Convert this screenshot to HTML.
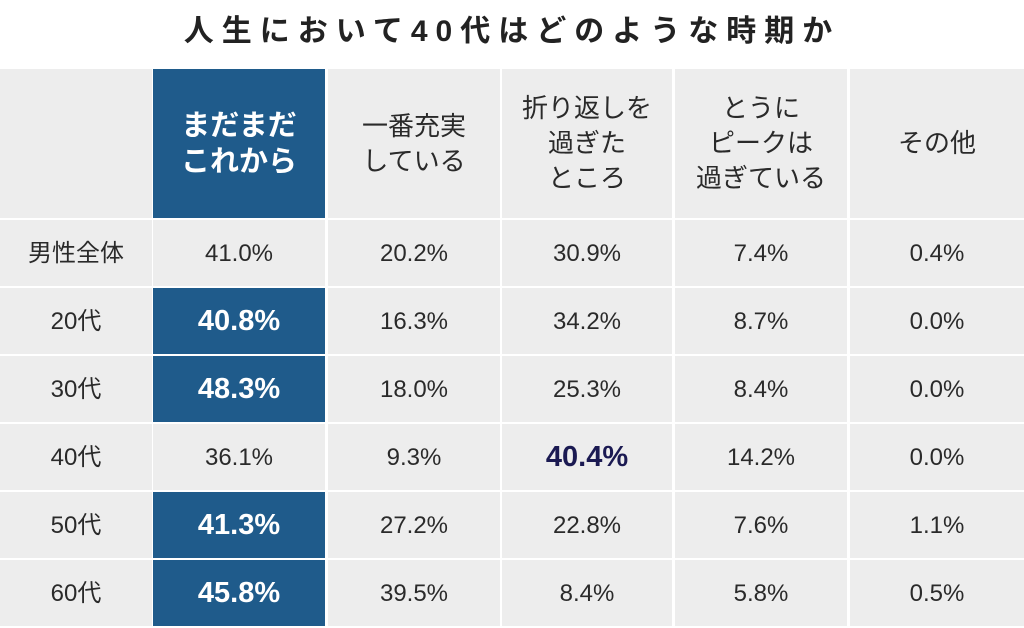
<!DOCTYPE html>
<html><head><meta charset="utf-8"><style>
body{margin:0;width:1024px;height:628px;background:#fff;position:relative;overflow:hidden;font-family:"Liberation Sans","Noto Sans CJK JP",sans-serif;color:#222}
.c{position:absolute;background:#ededed;display:flex;align-items:center;justify-content:center;text-align:center;font-size:24px;line-height:33px;color:#2a2a2a}
.b{background:#1f5b8b;color:#fff;font-weight:bold;font-size:29px;line-height:36px}
.h{font-size:26px;line-height:35px}
.hl{color:#1b1a52;font-weight:bold;font-size:29px}
#title{position:absolute;top:6px;left:0;width:1024px;text-align:center;font-size:30px;font-weight:bold;letter-spacing:8px;color:#222}
</style></head><body>
<div id="title">人生において40代はどのような時期か</div>
<div id="t"></div>
<script>
const rowLabels=["男性全体","20代","30代","40代","50代","60代"];
const colHeaders=["まだまだ<br>これから","一番充実<br>している","折り返しを<br>過ぎた<br>ところ","とうに<br>ピークは<br>過ぎている","その他"];
const col1=[41.0,40.8,48.3,36.1,41.3,45.8];
const col2=[20.2,16.3,18.0,9.3,27.2,39.5];
const col3=[30.9,34.2,25.3,40.4,22.8,8.4];
const col4=[7.4,8.7,8.4,14.2,7.6,5.8];
const col5=[0.4,0.0,0.0,0.0,1.1,0.5];
const cols=[col1,col2,col3,col4,col5];
const xs=[0,153,328,502,675,850],ws=[152,172,172,170,172,174];
const t=document.getElementById('t');
function cell(x,y,w,h,html,cls,name){const d=document.createElement('div');d.className='c '+cls;d.style.left=x+'px';d.style.top=y+'px';d.style.width=w+'px';d.style.height=h+'px';d.innerHTML=html;


t.appendChild(d);}
cell(0,69,152,149,'','','corner-cell');
colHeaders.forEach((h,i)=>cell(xs[i+1],69,ws[i+1],149,h,i==0?'b':'h','column-header'));
rowLabels.forEach((r,j)=>{const y=220+j*68;
cell(0,y,152,66,r,'','row-label');
cols.forEach((c,i)=>{let cls='';
if(i==0&&j>0&&j!=3)cls='b';
if(i==2&&j==3)cls='hl';
cell(xs[i+1],y,ws[i+1],66,c[j].toFixed(1)+'%',cls,'value-cell');});});
</script>
</body></html>
